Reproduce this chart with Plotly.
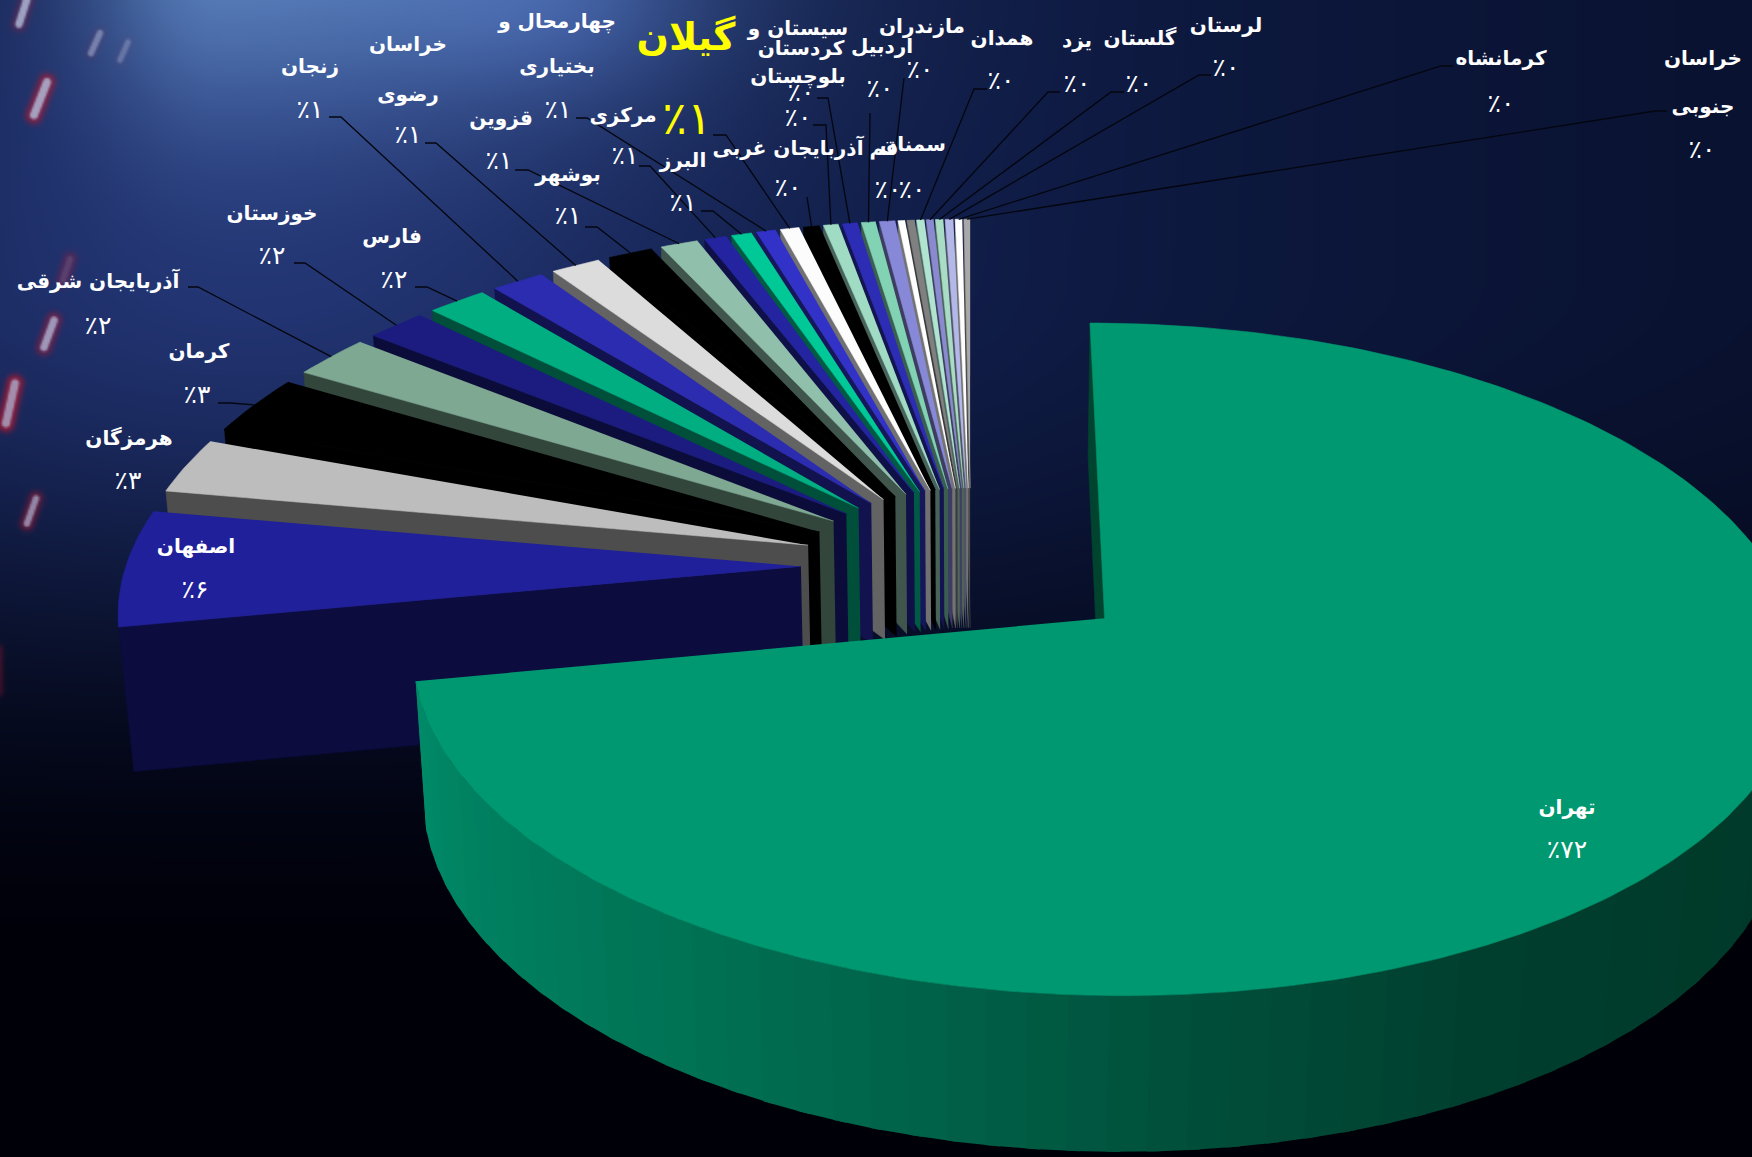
import base64
import struct
import zlib

import numpy as np
import plotly.graph_objects as go

WIDTH, HEIGHT = 1752, 1157

# Share of each province, in percent, clockwise from twelve o'clock
PROVINCES = ["تهران", "اصفهان", "هرمزگان", "کرمان", "آذربایجان شرقی", "خوزستان", "فارس",
             "زنجان", "خراسان رضوی", "بوشهر", "قزوین", "مرکزی", "البرز", "چهارمحال و بختیاری",
             "گیلان", "آذربایجان غربی", "سیستان و بلوچستان", "کردستان", "اردبیل", "مازندران",
             "قم", "سمنان", "همدان", "یزد", "گلستان", "لرستان", "کرمانشاه", "خراسان جنوبی"]
SHARES = [72.0, 5.8, 2.78, 2.95, 2.18, 1.64, 1.64,
          1.46, 1.36, 1.22, 1.03, 0.61, 0.56, 0.53,
          0.52, 0.44, 0.41, 0.42, 0.39, 0.43,
          0.19, 0.21, 0.21, 0.20, 0.21, 0.22, 0.19, 0.17]
TOP_COLORS = ["#009870", "#20209a", "#bdbdbd", "#000000", "#7ea892", "#1c1c80", "#00ae82",
              "#2c2cb0", "#dcdcdc", "#000000", "#90c0ab", "#2424a0", "#00c896", "#3232c8",
              "#fcfcfc", "#000000", "#a0dcc4", "#2c2cb4", "#82d2b4", "#8888d8",
              "#ffffff", "#808080", "#b0e4d0", "#8a8ad0", "#a8dcc4", "#b4b8e8", "#ffffff", "#a8a8a8"]
WALL_COLORS = ["#00442f", "#0c0c3e", "#4d4d4d", "#000000", "#33463c", "#0c0c3a", "#004f3a",
               "#12124e", "#636363", "#000000", "#40564c", "#101048", "#005a44", "#16165a",
               "#717171", "#000000", "#48635a", "#141450", "#3a5e50", "#3d3d61",
               "#737373", "#3a3a3a", "#4f6660", "#3e3e5e", "#4c6358", "#515368", "#737373", "#4c4c4c"]

# Text rows per province: name rows as (text, x, y), then the share label position
NAME_ROWS = {
    "تهران": [("تهران", 1567, 809)],
    "اصفهان": [("اصفهان", 196, 548)],
    "هرمزگان": [("هرمزگان", 129, 440)],
    "کرمان": [("کرمان", 199, 353)],
    "آذربایجان شرقی": [("آذربایجان شرقی", 98, 283)],
    "خوزستان": [("خوزستان", 272, 215)],
    "فارس": [("فارس", 392, 238)],
    "زنجان": [("زنجان", 310, 68)],
    "خراسان رضوی": [("خراسان", 408, 46), ("رضوی", 408, 96)],
    "بوشهر": [("بوشهر", 568, 176)],
    "قزوین": [("قزوین", 501, 120)],
    "مرکزی": [("مرکزی", 623, 117)],
    "البرز": [("البرز", 683, 162)],
    "چهارمحال و بختیاری": [("چهارمحال و", 557, 23), ("بختیاری", 557, 68)],
    "گیلان": [("گیلان", 686, 40)],
    "آذربایجان غربی": [("آذربایجان غربی", 788, 150)],
    "سیستان و بلوچستان": [("سیستان و", 798, 30), ("بلوچستان", 798, 78)],
    "کردستان": [("کردستان", 801, 50)],
    "اردبیل": [("اردبیل", 882, 48)],
    "مازندران": [("مازندران", 922, 28)],
    "قم": [("قم", 884, 150)],
    "سمنان": [("سمنان", 913, 146)],
    "همدان": [("همدان", 1002, 40)],
    "یزد": [("یزد", 1077, 42)],
    "گلستان": [("گلستان", 1140, 40)],
    "لرستان": [("لرستان", 1226, 27)],
    "کرمانشاه": [("کرمانشاه", 1501, 60)],
    "خراسان جنوبی": [("خراسان", 1703, 60), ("جنوبی", 1703, 108)],
}
SHARE_LABEL_POS = {
    "تهران": (1567, 852), "اصفهان": (195, 592), "هرمزگان": (128, 483), "کرمان": (197, 397),
    "آذربایجان شرقی": (98, 328), "خوزستان": (272, 258), "فارس": (394, 282), "زنجان": (310, 112),
    "خراسان رضوی": (408, 137), "بوشهر": (568, 218), "قزوین": (499, 163), "مرکزی": (625, 158),
    "البرز": (683, 205), "چهارمحال و بختیاری": (558, 112), "گیلان": (687, 122),
    "آذربایجان غربی": (788, 190), "سیستان و بلوچستان": (798, 120), "کردستان": (801, 95),
    "اردبیل": (880, 91), "مازندران": (920, 72), "قم": (888, 192), "سمنان": (912, 192),
    "همدان": (1001, 83), "یزد": (1077, 86), "گلستان": (1139, 86), "لرستان": (1226, 70),
    "کرمانشاه": (1501, 106), "خراسان جنوبی": (1702, 152),
}
# Leader lines: the label-side points; the last point is taken from the slice itself
LEADER_STARTS = {
    "کرمان": [(218, 403), (230, 403)],
    "آذربایجان شرقی": [(188, 287), (198, 287)],
    "خوزستان": [(294, 263), (305, 263)],
    "فارس": [(415, 287), (427, 287)],
    "زنجان": [(329, 117), (341, 117)],
    "خراسان رضوی": [(425, 143), (436, 143)],
    "بوشهر": [(585, 227), (597, 227)],
    "قزوین": [(515, 170), (528, 170)],
    "مرکزی": [(639, 166), (650, 166)],
    "البرز": [(701, 211), (713, 211)],
    "چهارمحال و بختیاری": [(576, 118), (587, 118)],
    "گیلان": [(713, 135), (726, 135)],
    "آذربایجان غربی": [(807, 197)],
    "سیستان و بلوچستان": [(813, 125), (826, 125)],
    "کردستان": [(817, 98), (828, 98)],
    "اردبیل": [(870, 113)],
    "مازندران": [(904, 78)],
    "همدان": [(987, 89), (974, 89)],
    "یزد": [(1060, 92), (1048, 92)],
    "گلستان": [(1124, 92), (1111, 92)],
    "لرستان": [(1211, 75), (1199, 75)],
    "کرمانشاه": [(1453, 66), (1441, 66)],
    "خراسان جنوبی": [(1667, 111), (1655, 111)],
}
HIGHLIGHT = "گیلان"

# Tehran's rim shading: angle in degrees, green channel, blue channel
RIM_ANGLES = [60, 105, 150, 175, 190, 215, 259.2]
RIM_GREEN = [54, 56, 62, 80, 95, 115, 140]
RIM_BLUE = [40, 40, 45, 60, 70, 85, 105]

# Perspective camera for the tilted disc, unit radius
CX, CY = 971.0, 566.0
SCALE_X, SCALE_Y, THICKNESS = 675.0, 318.6, 145.0
PERSP_Y, PERSP_Z = 0.12, 0.018
EXPLODE = 0.252


def project(x, y, z=0.0):
    s = 1 + PERSP_Y * np.asarray(y) + PERSP_Z * z
    return CX + SCALE_X * np.asarray(x) / s, CY + (-SCALE_Y * np.asarray(y) + THICKNESS * z) / s


def background_png():
    """Blue glow fading to black with blurred light streaks, encoded as a PNG."""
    w, h = WIDTH // 2, HEIGHT // 2
    px, py = np.meshgrid((np.arange(w) + 0.5) * 2, (np.arange(h) + 0.5) * 2)

    def lobe(cx, cy, left, right, up, down):
        sx = np.where(px < cx, left, right)
        sy = np.where(py < cy, up, down)
        return np.exp(-((px - cx) / sx) ** 2 / 2 - ((py - cy) / sy) ** 2 / 2)

    glow1 = lobe(220, -60, 100, 300, 130, 130)
    glow2 = lobe(250, 250, 350, 350, 300, 300)
    glow3 = lobe(560, 0, 110, 110, 70, 70)
    fade = np.clip((py - 280) / 720, 0, 1)
    fade = 1 - fade * fade * (3 - 2 * fade)
    rgb = np.zeros((h, w, 3))
    right_dim = 1 - 0.3 * np.clip((px - 1000) / 750, 0, 1)
    channels = [(14, 62, 20, 18, 0), (26, 85, 26, 24, 0), (58, 90, 48, 38, 8)]
    for i, (base, a1, a2, a3, floor) in enumerate(channels):
        rgb[..., i] = floor + (base * right_dim + a1 * glow1 + a2 * glow2 + a3 * glow3) * fade

    streaks = [((28, -4), (19, 24), 4, 0.8, 0.25), ((100, 33), (91, 53), 3, 0.5, 0.08),
               ((128, 42), (120, 60), 2.5, 0.35, 0.05), ((47, 82), (34, 115), 4.5, 0.8, 0.6),
               ((70, 259), (63, 280), 3, 0.15, 0.3), ((54, 320), (44, 347), 4, 0.75, 0.45),
               ((15, 383), (6, 423), 4.5, 0.7, 0.7), ((36, 498), (27, 523), 3, 0.65, 0.45),
               ((-4, 650), (-4, 690), 2, 0.0, 0.4)]
    for (x0, y0), (x1, y1), r, core, halo in streaks:
        dx, dy = x1 - x0, y1 - y0
        t = np.clip(((px - x0) * dx + (py - y0) * dy) / (dx * dx + dy * dy), 0, 1)
        dist = np.hypot(px - x0 - t * dx, py - y0 - t * dy)
        red = halo * np.exp(-(np.maximum(dist - r, 0) / 5.0) ** 2)
        for i, c in enumerate((170, 25, 50)):
            rgb[..., i] = rgb[..., i] * (1 - red) + c * red
        mask = core * np.exp(-(np.maximum(dist - r * 0.6, 0) / 1.6) ** 2)
        for i, c in enumerate((180, 190, 220)):
            rgb[..., i] = rgb[..., i] * (1 - mask) + c * mask

    pixels = np.clip(rgb, 0, 255).astype(np.uint8)
    raw = b"".join(b"\x00" + row.tobytes() for row in pixels)

    def chunk(tag, data):
        return struct.pack(">I", len(data)) + tag + data + struct.pack(">I", zlib.crc32(tag + data))

    png = (b"\x89PNG\r\n\x1a\n" + chunk(b"IHDR", struct.pack(">IIBBBBB", w, h, 8, 2, 0, 0, 0))
           + chunk(b"IDAT", zlib.compress(raw, 9)) + chunk(b"IEND", b""))
    return "data:image/png;base64," + base64.b64encode(png).decode()


def polygon(xs, ys, color, outline=0.6):
    return go.Scatter(x=list(xs), y=list(ys), mode="lines", fill="toself", fillcolor=color,
                      line=dict(color=color, width=outline), hoverinfo="skip", showlegend=False)


def to_persian(number):
    return str(number).translate(str.maketrans("0123456789", "۰۱۲۳۴۵۶۷۸۹"))


edges = 360.0 * np.concatenate([[0], np.cumsum(SHARES)]) / np.sum(SHARES)
slices = []
for i, name in enumerate(PROVINCES):
    start, end = edges[i], edges[i + 1]
    mid = np.radians((start + end) / 2)
    slices.append(dict(name=name, start=start, end=end, i=i,
                       ox=EXPLODE * np.sin(mid), oy=EXPLODE * np.cos(mid)))


def rim(sl, a0, a1, z=0.0, step=1.0):
    n = max(2, int(np.ceil((a1 - a0) / step)) + 1)
    ang = np.radians(np.linspace(a0, a1, n))
    return project(sl["ox"] + np.sin(ang), sl["oy"] + np.cos(ang), z)


fig = go.Figure()

# Painter's order: from the far thin slices round to Isfahan, with Tehran last
for sl in list(reversed(slices[1:])) + [slices[0]]:
    i = sl["i"]
    ax0, ay0 = project(sl["ox"], sl["oy"], 0.0)
    ax1, ay1 = project(sl["ox"], sl["oy"], 1.0)
    px0, py0 = rim(sl, sl["start"], sl["start"] + 1e-3)
    px1, py1 = rim(sl, sl["start"], sl["start"] + 1e-3, 1.0)
    # radial wall on the viewer's side of the slice
    fig.add_trace(polygon([ax0, px0[0], px1[0], ax1], [ay0, py0[0], py1[0], ay1], WALL_COLORS[i]))
    if i == 0:
        # outer wall of the big slice, shaded in strips; each strip overlaps the next
        strip_starts = np.arange(RIM_ANGLES[0], sl["end"], 3.0)
        for a in strip_starts[::-1]:
            b = min(a + 4.0, sl["end"])
            tx, ty = rim(sl, a, b, 0.0, 0.5)
            bx, by = rim(sl, a, b, 1.0, 0.5)
            g = np.interp(a + 1.5, RIM_ANGLES, RIM_GREEN)
            bl = np.interp(a + 1.5, RIM_ANGLES, RIM_BLUE)
            fig.add_trace(polygon(np.r_[tx, bx[::-1]], np.r_[ty, by[::-1]],
                                  f"rgb(0,{g:.0f},{bl:.0f})", outline=0))
    tx, ty = rim(sl, sl["start"], sl["end"], 0.0)
    fig.add_trace(polygon(np.r_[ax0, tx], np.r_[ay0, ty], TOP_COLORS[i]))

# Leader lines from each label to the middle of its slice's outer edge
for sl in slices:
    if sl["name"] not in LEADER_STARTS:
        continue
    mx, my = rim(sl, (sl["start"] + sl["end"]) / 2, (sl["start"] + sl["end"]) / 2 + 1e-3)
    pts = LEADER_STARTS[sl["name"]] + [(float(mx[0]), float(my[0]))]
    fig.add_trace(go.Scatter(x=[p[0] for p in pts], y=[p[1] for p in pts], mode="lines",
                             line=dict(color="#04060f", width=1.3), hoverinfo="skip", showlegend=False))

# Province names and rounded shares
FONT = "DejaVu Sans"
name_x, name_y, name_t, name_s, name_c = [], [], [], [], []
val_x, val_y, val_t, val_s, val_c = [], [], [], [], []
for name, share in zip(PROVINCES, SHARES):
    hot = name == HIGHLIGHT
    for text, x, y in NAME_ROWS[name]:
        name_x.append(x); name_y.append(y); name_t.append(text)
        name_s.append(38 if hot else 20)
        name_c.append("#ffff00" if hot else "#ffffff")
    x, y = SHARE_LABEL_POS[name]
    val_x.append(x); val_y.append(y); val_t.append("٪" + to_persian(round(share)))
    val_s.append(46 if hot else 25)
    val_c.append("#ffff00" if hot else "#ffffff")

fig.add_trace(go.Scatter(x=name_x, y=name_y, text=name_t, mode="text", textposition="middle center",
                         textfont=dict(family=FONT, size=name_s, color=name_c, weight=700),
                         hoverinfo="skip", showlegend=False))
fig.add_trace(go.Scatter(x=val_x, y=val_y, text=val_t, mode="text", textposition="middle center",
                         textfont=dict(family=FONT, size=val_s, color=val_c),
                         hoverinfo="skip", showlegend=False))

fig.update_layout(
    width=WIDTH, height=HEIGHT, margin=dict(l=0, r=0, t=0, b=0), autosize=False,
    paper_bgcolor="#000008", plot_bgcolor="rgba(0,0,0,0)",
    xaxis=dict(range=[0, WIDTH], visible=False, fixedrange=True),
    yaxis=dict(range=[HEIGHT, 0], visible=False, fixedrange=True),
    images=[dict(source=background_png(), xref="x", yref="y", x=0, y=0,
                 sizex=WIDTH, sizey=HEIGHT, xanchor="left", yanchor="top",
                 sizing="stretch", layer="below")],
)
fig.write_html("out.html", config=dict(displayModeBar=False))
